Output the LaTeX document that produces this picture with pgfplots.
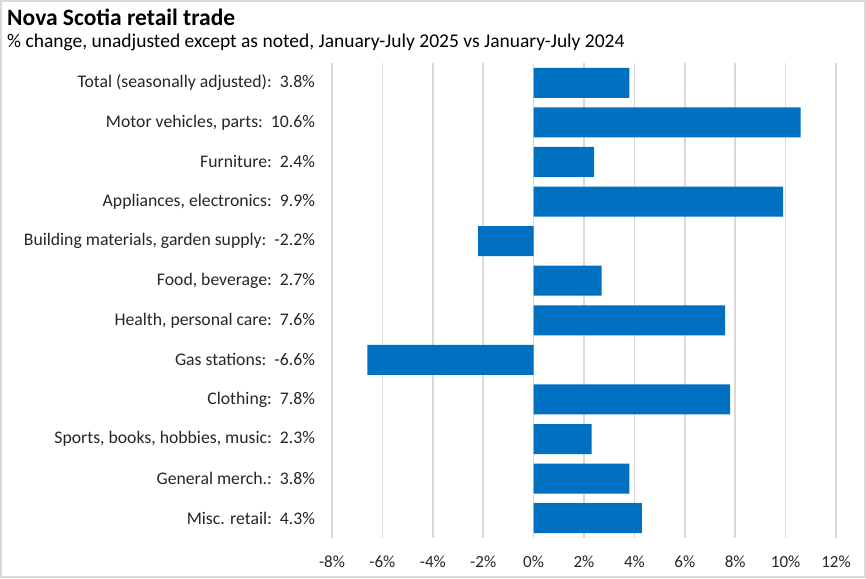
\documentclass[border=0pt]{standalone}
\usepackage{pgfplots}
\pgfplotsset{compat=1.18}
\usepackage{fontspec}
\setmainfont{Carlito}
\definecolor{barblue}{HTML}{0070C0}
\definecolor{gridgray}{HTML}{D9D9D9}
\begin{document}
\begin{tikzpicture}[x=1pt,y=1pt]
\path[use as bounding box] (0,0) rectangle (866,578);
\fill[white] (0,0) rectangle (866,578);
\draw[gridgray,line width=2pt] (1,1) rectangle (865,577);
\node[anchor=base west,font=\fontsize{23.5}{26}\selectfont\bfseries,inner sep=0pt] at (7,552) {Nova Scotia retail trade};
\node[anchor=base west,font=\fontsize{19.5}{22}\selectfont,inner sep=0pt] at (7,530) {\% change, unadjusted except as noted, January-July 2025 vs January-July 2024};
\begin{axis}[
  at={(332pt,40pt)}, anchor=south west,
  scale only axis, width=504pt, height=475pt,
  xbar, bar width=30pt,
  xmin=-8, xmax=12,
  ymin=-0.5, ymax=11.5, y dir=reverse,
  xtick={-8,-6,...,12},
  xticklabels={-8\%,-6\%,-4\%,-2\%,0\%,2\%,4\%,6\%,8\%,10\%,12\%},
  ytick={0,...,11},
  yticklabels={
    {Total (seasonally adjusted):\ \ 3.8\%},
    {Motor vehicles, parts:\ \ 10.6\%},
    {Furniture:\ \ 2.4\%},
    {Appliances, electronics:\ \ 9.9\%},
    {Building materials, garden supply:\ \ -2.2\%},
    {Food, beverage:\ \ 2.7\%},
    {Health, personal care:\ \ 7.6\%},
    {Gas stations:\ \ -6.6\%},
    {Clothing:\ \ 7.8\%},
    {Sports, books, hobbies, music:\ \ 2.3\%},
    {General merch.:\ \ 3.8\%},
    {Misc. retail:\ \ 4.3\%}},
  xmajorgrids, major grid style={gridgray,line width=1.5pt},
  axis line style={draw=none},
  major tick length=0pt,
  xticklabel style={font=\fontsize{17}{20}\selectfont,text=black!85, anchor=base, yshift=-29pt},
  yticklabel style={font=\fontsize{17.7}{20}\selectfont,text=black!85, xshift=-13.5pt},
  tick label style={/pgf/number format/assume math mode=true},
]
\addplot[fill=barblue,draw=none] coordinates {
(3.8,0) (10.6,1) (2.4,2) (9.9,3) (-2.2,4) (2.7,5) (7.6,6) (-6.6,7) (7.8,8) (2.3,9) (3.8,10) (4.3,11)};
\end{axis}
\end{tikzpicture}
\end{document}
